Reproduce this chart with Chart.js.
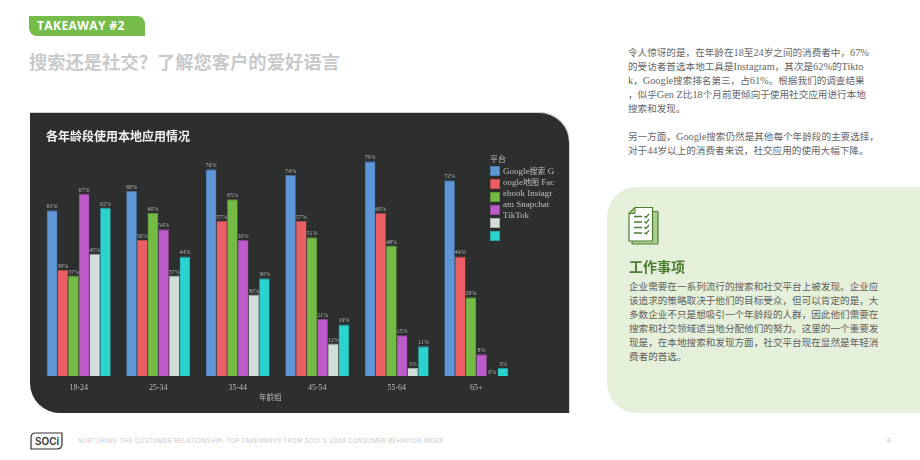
<!DOCTYPE html>
<html lang="zh"><head><meta charset="utf-8">
<script src="https://cdn.jsdelivr.net/npm/chart.js@4"></script>
<style>
html,body{margin:0;padding:0;background:#fff;overflow:hidden}
#page{position:relative;width:920px;height:460px;overflow:hidden;font-family:"Liberation Serif","Noto Sans CJK SC",serif}
.a{position:absolute;white-space:nowrap}
#tag{left:29px;top:16px;width:116px;height:20px;background:#76bc4a;border-radius:0 8px 0 8px;color:#fff;font:bold 12px/20px "Open Sans",sans-serif;text-indent:8px;letter-spacing:.4px}
#head{left:29px;top:49px;font:bold 18.3px/24px "Noto Sans CJK SC",sans-serif;color:#c9cacb}
#panel{left:30px;top:112px;width:539px;height:301px;background:#2d2f2e;border-radius:0 30px 0 30px;border-top:1px solid #cfcfcf;box-sizing:border-box;box-shadow:1px 0 0 #d8d8d8}
#cw{left:30px;top:112px;width:539px;height:301px}
#green{left:607px;top:187px;width:313px;height:226px;background:#e4f0d9;border-radius:30px 0 0 30px}
.t{font-size:9.6px;line-height:14px;color:#666}
.j{left:629px;color:#5f5f5f}
#act{left:629px;top:256px;font:bold 14px/20px "Noto Sans CJK SC",sans-serif;color:#4d7c35}
#ft{left:78px;top:437px;font:400 6px/8px Inter,"Open Sans",sans-serif;color:#c9c9c9;letter-spacing:.415px}
#pg{left:887px;top:437px;font:6px/8px Inter,sans-serif;color:#bbb}
.lg{font-size:9px;line-height:11px;color:#bdbdbd}
.sw{width:8px;height:8px;border:1px solid rgba(0,0,0,.2);position:absolute;left:490px}
</style></head><body>
<div id="page">
<div class="a" id="tag">TAKEAWAY #2</div>
<div class="a" id="head">搜索还是社交？了解您客户的爱好语言</div>
<div class="a" id="panel"></div>
<div class="a" id="cw"><canvas id="c" width="539" height="301"></canvas></div>
<div class="a" id="xt" style="left:259px;top:392px;font-size:7.5px;line-height:11px;color:#bdbdbd">年龄组</div>
<div id="lg"></div>
<div class="a t" style="left:628px;top:46px">令人惊讶的是，在年龄在18至24岁之间的消费者中，67%</div>
<div class="a t" style="left:628px;top:60px">的受访者首选本地工具是Instagram，其次是62%的Tikto</div>
<div class="a t" style="left:628px;top:74px">k，Google搜索排名第三，占61%。根据我们的调查结果</div>
<div class="a t" style="left:628px;top:88px">，似乎Gen Z比18个月前更倾向于使用社交应用进行本地</div>
<div class="a t" style="left:628px;top:102px">搜索和发现。</div>
<div class="a t" style="left:628px;top:130px">另一方面，Google搜索仍然是其他每个年龄段的主要选择，</div>
<div class="a t" style="left:628px;top:144px">对于44岁以上的消费者来说，社交应用的使用大幅下降。</div>
<div class="a" id="green"></div>
<svg class="a" style="left:627px;top:206px" width="33" height="40" viewBox="0 0 33 40">
<rect x="5" y="5.5" width="26" height="32.5" rx="1" fill="#a9cf8c" stroke="#4d7c35" stroke-width="1.2"/>
<path d="M8 1.5H25.5V35H2V7.5Z" fill="#fff" stroke="#4d7c35" stroke-width="1.2"/>
<path d="M8 1.5V7.5H2Z" fill="#a9cf8c" stroke="#4d7c35" stroke-width="1"/>
<path d="M7 10.5h8M7 16h8M7 21.5h8M7 27h8" stroke="#4d7c35" stroke-width="1.3"/>
<path d="M17.5 10l1.5 1.5 3-3.5M17.5 15.5l1.5 1.5 3-3.5M17.5 21l1.5 1.5 3-3.5M17.5 26.5l1.5 1.5 3-3.5" fill="none" stroke="#4d7c35" stroke-width="1.2"/>
</svg>
<div class="a" id="act">工作事项</div>
<div class="a t j" style="top:280px">企业需要在一系列流行的搜索和社交平台上被发现。企业应</div>
<div class="a t j" style="top:294px">该追求的策略取决于他们的目标受众，但可以肯定的是，大</div>
<div class="a t j" style="top:308px">多数企业不只是想吸引一个年龄段的人群，因此他们需要在</div>
<div class="a t j" style="top:322px">搜索和社交领域适当地分配他们的努力。这里的一个重要发</div>
<div class="a t j" style="top:336px">现是，在本地搜索和发现方面，社交平台现在显然是年轻消</div>
<div class="a t j" style="top:350px">费者的首选。</div>
<svg class="a" style="left:29px;top:432px" width="35" height="18" viewBox="0 0 35 18">
<path d="M6 1H33V12Q33 17 28 17H2V6Q2 1 6 1Z" fill="#fff" stroke="#333" stroke-width="1.2"/>
<text x="6" y="13" font-family="Inter,sans-serif" font-weight="600" font-size="10" fill="#333">SOCi</text>
</svg>
<div class="a" id="ft">NURTURING THE CUSTOMER RELATIONSHIP: TOP TAKEAWAYS FROM SOCI'S 2024 CONSUMER BEHAVIOR INDEX</div>
<div class="a" id="pg">6</div>
</div>
<script>
const categories = ["18-24","25-34","35-44","45-54","55-64","65+"];
const googleSearch = [61,68,76,74,79,72];
const googleMaps   = [39,50,57,57,60,44];
const facebook     = [37,60,65,51,48,29];
const instagram    = [67,54,50,21,15,8];
const snapchat     = [45,37,30,12,3,0];
const tiktok       = [62,44,36,19,11,3];
const seriesNames  = ["Google搜索","Google地图","Facebook","Instagram","Snapchat","TikTok"];
const seriesColors = ["#5f96d8","#ea5f63","#74bb46","#bd5bcb","#d2ded8","#2bd3cf"];
const seriesEdges  = ["#3f6f9f","#a8494d","#5a9138","#8a4496","#9aa5a0","#1f9a97"];
const legendTitle  = "平台";
const legendLines  = ["Google搜索 G","oogle地图 Fac","ebook Instagr","am Snapchat","TikTok"];
const chartTitle   = "各年龄段使用本地应用情况";

const seriesValues = [googleSearch,googleMaps,facebook,instagram,snapchat,tiktok];

const valueLabels = {
  id:'valueLabels',
  afterDatasetsDraw(chart){
    const ctx = chart.ctx;
    ctx.save();
    ctx.font = '6px "Liberation Serif"';
    ctx.fillStyle = '#b5b5b5';
    ctx.textAlign = 'center';
    ctx.textBaseline = 'bottom';
    chart.data.datasets.forEach((ds,i)=>{
      chart.getDatasetMeta(i).data.forEach((bar,j)=>{
        ctx.fillText(ds.data[j]+'%', bar.x, bar.y-0.5);
      });
    });
    ctx.restore();
  }
};
const titleShift = { id:'titleShift', afterLayout(chart){ chart.titleBlock.left += 7; chart.titleBlock.right += 7; } };

new Chart(document.getElementById('c'),{
  type:'bar',
  data:{labels:categories,datasets:seriesNames.map((n,i)=>({
    label:n,data:seriesValues[i],backgroundColor:seriesColors[i],
    borderColor:seriesEdges[i],borderWidth:{top:1,left:0.5,right:0.5,bottom:1},
    categoryPercentage:0.805,barPercentage:1
  }))},
  plugins:[valueLabels,titleShift],
  options:{
    responsive:false,animation:false,
    devicePixelRatio:1,
    layout:{padding:{left:9,right:53,top:0,bottom:13.3}},
    plugins:{
      legend:{display:false},tooltip:{enabled:false},
      title:{display:true,text:chartTitle,align:'start',color:'#f2f2f2',fullSize:true,
        font:{family:'"Noto Sans CJK SC"',size:12,weight:'bold'},padding:{top:17,bottom:4.2}}
    },
    scales:{
      x:{grid:{display:false,tickLength:0},border:{display:false},
        ticks:{color:'#bdbdbd',font:{family:'"Liberation Serif"',size:8},padding:7,maxRotation:0}},
      y:{display:false,min:0,max:84}
    }
  }
});
(function(){
  const lg=document.getElementById('lg');
  const cjk=t=>t.replace(/[\u4e00-\u9fff]+/g,s=>'<span style="font-size:8px">'+s+'</span>');
  let h='<div class="a lg" style="left:490px;top:154px;font-size:8px">'+legendTitle+'</div>';
  seriesColors.forEach((c,i)=>{h+='<div class="sw" style="top:'+(166+13*i)+'px;background:'+c+'"></div>';});
  legendLines.forEach((t,i)=>{h+='<div class="a lg" style="left:503px;top:'+(166+11*i)+'px">'+cjk(t)+'</div>';});
  lg.innerHTML=h;
  document.querySelectorAll('.t').forEach(el=>{
    el.innerHTML=el.textContent.replace(/[A-Za-z0-9% ]+/g,s=>'<span style="font-size:10.3px">'+s+'</span>');
  });
})();
</script>
</body></html>
